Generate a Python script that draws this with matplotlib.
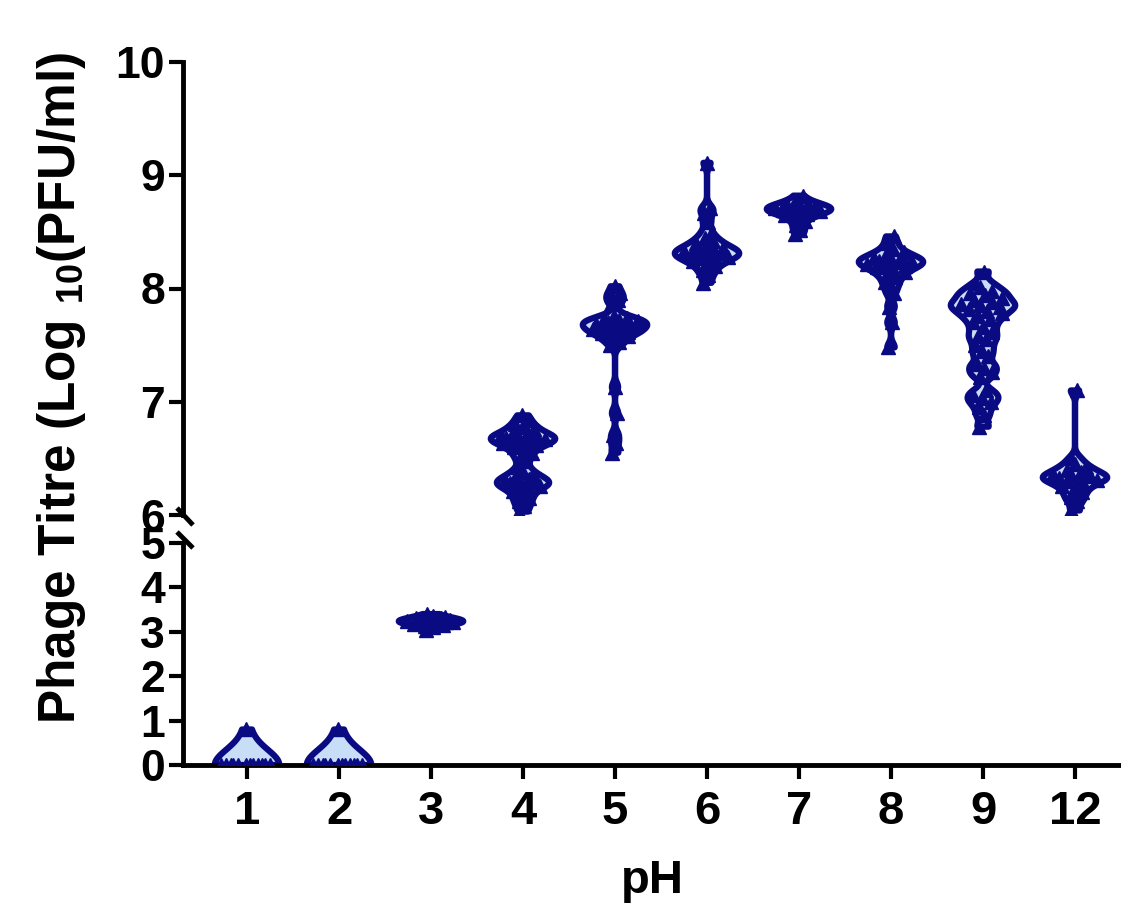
import numpy as np
import matplotlib
matplotlib.use("Agg")
import matplotlib.pyplot as plt
from matplotlib.lines import Line2D

# ---------------- data ----------------
ph_labels = ["1", "2", "3", "4", "5", "6", "7", "8", "9", "12"]

ph1 = [0.0] * 12 + [0.8]
ph2 = [0.0] * 12 + [0.8]
ph3 = [3.05, 3.10, 3.12, 3.15, 3.17, 3.18, 3.20, 3.20, 3.21, 3.22, 3.22, 3.23,
       3.24, 3.25, 3.25, 3.26, 3.27, 3.28, 3.30, 3.30, 3.32, 3.34, 3.36, 3.40]
ph4 = [6.88, 6.84, 6.80, 6.78, 6.76, 6.74, 6.72, 6.71, 6.70, 6.69, 6.68, 6.68,
       6.67, 6.66, 6.65, 6.64, 6.63, 6.62, 6.60, 6.58, 6.55, 6.52, 6.48,
       6.42, 6.38, 6.36, 6.34, 6.32, 6.31, 6.30, 6.29, 6.28, 6.27, 6.26, 6.25,
       6.23, 6.21, 6.18, 6.15, 6.12, 6.08, 6.03]
ph5 = [6.55, 6.64, 6.71, 6.90, 7.13, 7.50, 7.53, 7.56, 7.58, 7.60, 7.61, 7.62,
       7.63, 7.64, 7.65, 7.66, 7.67, 7.68, 7.69, 7.70, 7.70, 7.71, 7.72, 7.73,
       7.74, 7.76, 7.86, 7.90, 7.93, 7.96, 8.02]
ph6 = [8.05, 8.12, 8.16, 8.20, 8.22, 8.24, 8.26, 8.27, 8.28, 8.29, 8.30, 8.31,
       8.32, 8.33, 8.34, 8.35, 8.36, 8.38, 8.40, 8.42, 8.45, 8.50, 8.59, 8.67,
       8.71, 9.11]
ph7 = [8.48, 8.52, 8.56, 8.60, 8.63, 8.65, 8.66, 8.67, 8.68, 8.69, 8.69, 8.70,
       8.70, 8.71, 8.71, 8.72, 8.72, 8.73, 8.74, 8.75, 8.78, 8.82]
ph8 = [7.48, 7.70, 7.84, 7.96, 8.02, 8.06, 8.10, 8.13, 8.15, 8.17, 8.19, 8.20,
       8.21, 8.22, 8.23, 8.24, 8.25, 8.26, 8.27, 8.28, 8.30, 8.32, 8.35, 8.40,
       8.46]
ph9 = [6.78, 6.88, 6.95, 7.00, 7.03, 7.06, 7.10, 7.22, 7.26, 7.30, 7.33, 7.40,
       7.45, 7.50, 7.55, 7.58, 7.62, 7.66, 7.70, 7.73, 7.76, 7.78, 7.80, 7.82,
       7.84, 7.85, 7.86, 7.88, 7.90, 7.92, 7.94, 7.96, 7.98, 8.01, 8.05, 8.15]
ph12 = [6.04, 6.12, 6.16, 6.20, 6.23, 6.26, 6.28, 6.30, 6.31, 6.32, 6.33, 6.34,
        6.35, 6.36, 6.38, 6.40, 6.42, 6.45, 6.50, 7.10]

groups = [ph1, ph2, ph3, ph4, ph5, ph6, ph7, ph8, ph9, ph12]

# ---------------- style ----------------
NAVY = "#0a0a82"
FILL = "#c8ddf6"
bandwidths = [0.35, 0.35, 0.06, 0.04, 0.04, 0.04, 0.04, 0.04, 0.04, 0.04]
HALF_W = 0.35

plt.rcParams["font.family"] = ["Liberation Sans", "DejaVu Sans"]
plt.rcParams["font.weight"] = "bold"
plt.rcParams["mathtext.fontset"] = "custom"
plt.rcParams["mathtext.rm"] = "Liberation Sans:bold"
plt.rcParams["mathtext.bf"] = "Liberation Sans:bold"

W, H = 1121, 909
fig = plt.figure(figsize=(W / 100, H / 100), dpi=100)

left = 183 / W
ax_top = fig.add_axes([left, 1 - 515 / H, 1 - left, (515 - 62) / H])
ax_bot = fig.add_axes([left, 1 - 765 / H, 1 - left, (765 - 543) / H])


def kde(vals, grid, h):
    v = np.asarray(vals, dtype=float)[:, None]
    return np.exp(-0.5 * ((grid[None, :] - v) / h) ** 2).sum(axis=0)


def draw(ax):
    for i, (vals, h) in enumerate(zip(groups, bandwidths)):
        vals = np.sort(np.asarray(vals, dtype=float))
        grid = np.linspace(vals.min(), vals.max(), 400)
        d = kde(vals, grid, h)
        w = HALF_W * d / d.max()
        xs = np.concatenate([i - w, (i + w)[::-1]])
        ys = np.concatenate([grid, grid[::-1]])
        ax.fill(xs, ys, facecolor=FILL, edgecolor=NAVY, linewidth=4.5,
                joinstyle="round", zorder=2)
        wp = np.interp(vals, grid, w)
        k = np.arange(len(vals))
        s = ((k * 0.6180339887) % 1.0) * 2 - 1
        ax.plot(i + 0.8 * s * wp, vals, ls="none", marker="^", ms=10,
                color=NAVY, mec=NAVY, zorder=3)


for ax in (ax_top, ax_bot):
    draw(ax)
    ax.set_xlim(-0.696, 9.5)
    for sp in ("top", "right"):
        ax.spines[sp].set_visible(False)
    ax.spines["left"].set_linewidth(3.5)
    ax.spines["bottom"].set_linewidth(3.5)
    ax.tick_params(axis="y", length=10, width=3, labelsize=32, pad=3)
    ax.tick_params(axis="x", length=10, width=3, labelsize=34, pad=8)

ax_top.set_ylim(6, 10)
ax_top.set_yticks([6, 7, 8, 9, 10])
ax_top.spines["bottom"].set_visible(False)
ax_top.tick_params(axis="x", bottom=False, labelbottom=False)

ax_bot.set_ylim(0, 5)
ax_bot.set_yticks([0, 1, 2, 3, 4, 5])
ax_bot.set_xticks(range(len(ph_labels)))
ax_bot.set_xticklabels(ph_labels)
ax_bot.set_xlabel("pH", fontsize=34, fontweight="bold", labelpad=18)

# axis break marks
for (x0, y0, x1, y1) in [(177, 508, 193, 525), (177, 532, 193, 548)]:
    fig.add_artist(Line2D([x0 / W, x1 / W], [1 - y0 / H, 1 - y1 / H],
                          color="black", lw=3.5, solid_capstyle="butt"))

fig.text(62 / W, 1 - 388 / H, r"Phage Titre (Log $_{\mathregular{10}}$(PFU/ml)",
         rotation=90, ha="center", va="center", fontsize=37, fontweight="bold")

fig.savefig("out.png", dpi=100)
